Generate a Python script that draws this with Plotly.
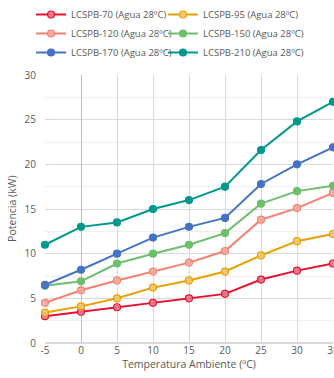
import plotly.graph_objects as go

temps = [-5, 0, 5, 10, 15, 20, 25, 30, 35]
temp_labels = ["-5", "0", "5", "10", "15", "20", "25", "30", "35"]

lcspb_70 = [3.0, 3.5, 4.0, 4.5, 5.0, 5.5, 7.1, 8.1, 8.9]
lcspb_95 = [3.4, 4.1, 5.0, 6.2, 7.0, 8.0, 9.8, 11.4, 12.2]
lcspb_120 = [4.5, 5.9, 7.0, 8.0, 9.0, 10.3, 13.8, 15.1, 16.8]
lcspb_150 = [6.4, 6.9, 8.9, 10.0, 11.0, 12.3, 15.6, 17.0, 17.6]
lcspb_170 = [6.5, 8.2, 10.0, 11.8, 13.0, 14.0, 17.8, 20.0, 21.9]
lcspb_210 = [11.0, 13.0, 13.5, 15.0, 16.0, 17.5, 21.6, 24.8, 27.0]

names = ["LCSPB-70 (Agua 28ºC)", "LCSPB-95 (Agua 28ºC)", "LCSPB-120 (Agua 28ºC)",
         "LCSPB-150 (Agua 28ºC)", "LCSPB-170 (Agua 28ºC)", "LCSPB-210 (Agua 28ºC)"]
series = [lcspb_70, lcspb_95, lcspb_120, lcspb_150, lcspb_170, lcspb_210]

# (line colour, marker fill) - the first three have pale, hatched-looking markers
styles = [
    ("#E4102F", "rgba(240,120,140,0.9)"),
    ("#E8A000", "rgba(240,200,110,0.9)"),
    ("#F4806F", "rgba(248,170,160,0.9)"),
    ("#6DBF6C", "#6DBF6C"),
    ("#4472C4", "#4472C4"),
    ("#00988E", "#00988E"),
]

fig = go.Figure()
for i, (name, vals, (col, fill)) in enumerate(zip(names, series, styles)):
    fig.add_trace(go.Scatter(
        x=temps, y=vals, name=name, mode="lines+markers",
        line=dict(color=col, width=2),
        marker=dict(size=7, color=fill, line=dict(color=col, width=1.2)),
        cliponaxis=False,
        legend="legend" if i % 2 == 0 else "legend2",
    ))

font = "Open Sans, Liberation Sans, sans-serif"
leg = dict(xref="container", yref="container", y=1.0, xanchor="left", yanchor="top",
           font=dict(size=9.5, color="#595959"), itemwidth=30, tracegroupgap=0,
           bgcolor="rgba(0,0,0,0)")
fig.update_layout(
    width=334, height=378,
    margin=dict(l=45, r=1, t=75, b=35, autoexpand=False),
    paper_bgcolor="white", plot_bgcolor="white",
    font=dict(family=font, size=10, color="#595959"),
    legend=dict(leg, x=0.093),
    legend2=dict(leg, x=0.488),
    xaxis=dict(
        range=[-5, 35], tickvals=temps, ticktext=temp_labels, ticks="",
        showgrid=True, gridcolor="#D9D9D9", gridwidth=1,
        zeroline=True, zerolinecolor="#BFBFBF", zerolinewidth=1,
        showline=False, automargin=False, ticklabeloverflow="allow",
        title=dict(text="Temperatura Ambiente (ºC)", font=dict(size=10.5), standoff=4),
    ),
    yaxis=dict(
        range=[0, 30], dtick=5, ticks="",
        showgrid=True, gridcolor="#D9D9D9", gridwidth=1,
        minor=dict(dtick=2.5, showgrid=True, gridcolor="#F0F0F0", gridwidth=1),
        zeroline=True, zerolinecolor="#D9D9D9",
        showline=False, ticklabelstandoff=8, automargin=False,
    ),
    annotations=[dict(
        text="Potencia (kW)", textangle=-90, showarrow=False,
        xref="paper", x=-0.115, xanchor="center",
        yref="paper", y=0.5, yanchor="middle",
        font=dict(size=10.5, color="#595959"),
    )],
)

# page body has a default 8px margin; drop it so the figure sits at the window corner
fig.write_html("out.html", config={"displayModeBar": False},
               post_script="document.body.style.margin='0';")
